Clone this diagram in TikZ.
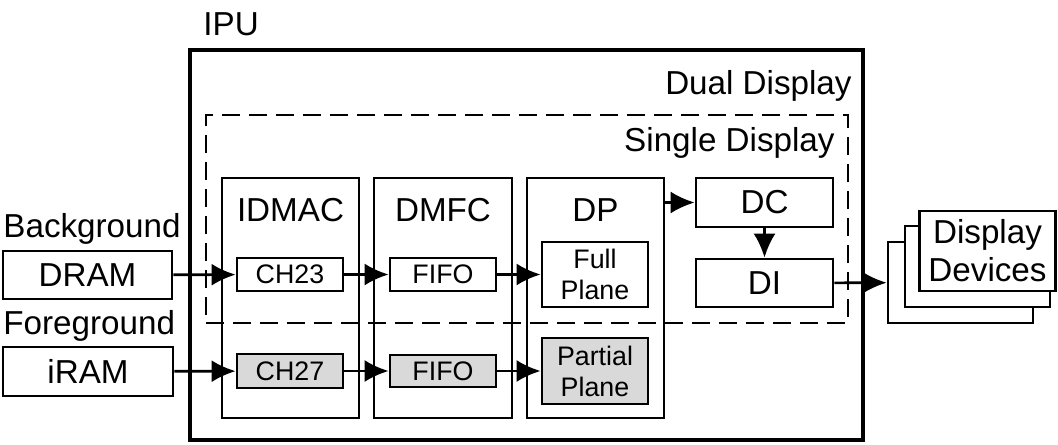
\documentclass[tikz,border=0pt]{standalone}
\usepackage{fontspec}
\setmainfont{Liberation Sans}
\usepackage{tikz}
\usetikzlibrary{arrows.meta,positioning}
\newcommand{\ipubig}{\fontsize{16.6}{19}\selectfont}
\newcommand{\ipusmall}{\fontsize{13.4}{15.5}\selectfont}
\tikzset{
  ipuframe/.style={draw, line width=1.8pt, inner sep=0pt},
  ipudash/.style={draw, line width=1.1pt, dash pattern=on 9pt off 4.5pt, inner sep=0pt},
  ipubox/.style={draw, line width=1.4pt, inner sep=0pt, font=\ipubig, align=center},
  ipusub/.style={draw, line width=1.4pt, inner sep=0pt, font=\ipusmall, align=center, minimum width=53pt},
  ipushade/.style={ipusub, fill=black!15},
  ipuarrow/.style={-{Latex[length=12pt,width=11pt]}, line width=1.3pt},
  ipulabel/.style={inner sep=0pt, font=\ipubig},
}

\begin{document}
\begin{tikzpicture}[x=0.5pt, y=-0.5pt]
  \useasboundingbox (0,0) rectangle (1058,444);

  % outer frames
  \node[ipuframe, minimum width=336.5pt, minimum height=195pt] (ipu) at (526.5,245) {};
  \node[ipudash, minimum width=321pt, minimum height=104pt] (single) at (527,219) {};
  \node[ipulabel, anchor=base west] (ipulbl) at (203,36) {IPU};
  \node[ipulabel, anchor=base east] (duallbl) at (852,95) {Dual Display};
  \node[ipulabel, anchor=base east] (singlelbl) at (835,151) {Single Display};

  % memories
  \node[ipulabel, anchor=base west] (bglbl) at (3,237) {Background};
  \node[ipulabel, anchor=base west] (fglbl) at (3,334) {Foreground};
  \node[ipubox, minimum width=84.5pt, minimum height=24pt] (dram) at (87.5,275) {DRAM};
  \node[ipubox, minimum width=85pt, minimum height=24.5pt] (iram) at (88,371.5) {iRAM};

  % columns
  \node[ipubox, minimum width=68.5pt, minimum height=120pt] (idmac) at (290.5,298) {};
  \node[ipubox, minimum width=69pt, minimum height=120pt] (dmfc) at (443,298) {};
  \node[ipubox, minimum width=68.5pt, minimum height=120pt] (dp) at (595.5,298) {};
  \node[ipulabel, anchor=base] (idmaclbl) at (290.5,221) {IDMAC};
  \node[ipulabel, anchor=base] (dmfclbl) at (443,221) {DMFC};
  \node[ipulabel, anchor=base] (dplbl) at (595.5,221) {DP};

  \node[ipusub, minimum height=16.5pt] (ch23) at (290,274.5) {CH23};
  \node[ipushade, minimum height=17pt] (ch27) at (290,371) {CH27};
  \node[ipusub, minimum height=16.5pt] (fifoa) at (443,274.5) {FIFO};
  \node[ipushade, minimum height=16pt] (fifob) at (443,371) {FIFO};
  \node[ipusub, minimum height=32.5pt] (fullpl) at (595,274.5) {Full\\Plane};
  \node[ipushade, minimum height=33pt] (partpl) at (595,371) {Partial\\Plane};

  \node[ipubox, minimum width=68.5pt, minimum height=24.5pt] (dc) at (764.5,202.5) {DC};
  \node[ipubox, minimum width=68.5pt, minimum height=24pt] (di) at (764.5,283) {DI};

  % display devices
  \node[ipubox, fill=white, minimum width=72.5pt, minimum height=40.5pt] (devback) at (960.5,282.5) {};
  \node[ipubox, fill=white, minimum width=72.5pt, minimum height=40.5pt] (devmid) at (977.5,266.5) {};
  \node[ipubox, fill=white, minimum width=68pt, minimum height=40pt] (devfront) at (987.5,251) {Display\\Devices};

  \draw[ipuarrow] (dram) -- (ch23);
  \draw[ipuarrow] (iram) -- (ch27);
  \draw[ipuarrow] (ch23) -- (fifoa);
  \draw[ipuarrow] (ch27) -- (fifob);
  \draw[ipuarrow] (fifoa) -- (fullpl);
  \draw[ipuarrow] (fifob) -- (partpl);
  \draw[ipuarrow] (dp.east |- dc.west) -- (dc.west);
  \draw[ipuarrow] (dc) -- (di);
  \draw[ipuarrow] (di) -- (devback);
\end{tikzpicture}
\end{document}
